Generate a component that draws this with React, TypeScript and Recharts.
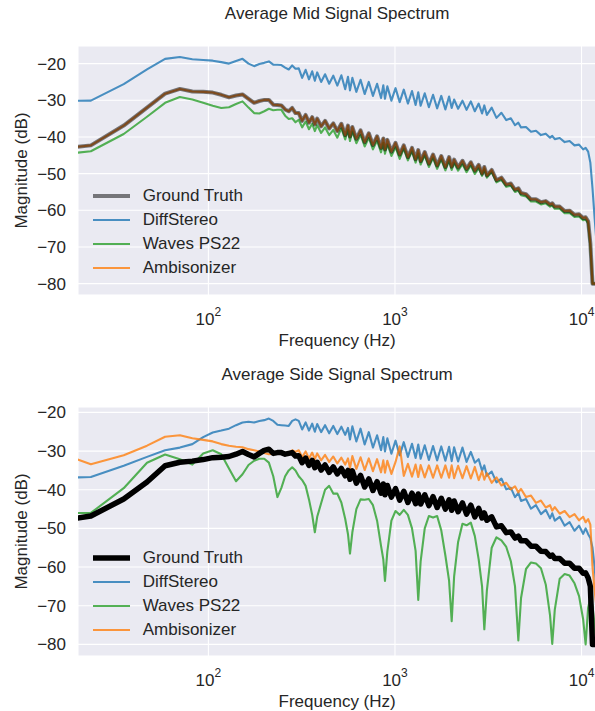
import { LineChart, Line, XAxis, YAxis, CartesianGrid, Legend, Label } from 'recharts';

const FONT = '"Liberation Sans", Arial, Helvetica, sans-serif';
const INK = '#262626';

// frequency bins (Hz); low end follows the FFT bins, higher up a thinner set
const freqs = [
  11.72, 23.44, 35.16, 46.88, 58.59, 70.31, 82.03, 93.75, 105.47, 117.19, 128.91, 140.63, 152.34,
  164.06, 175.78, 187.5, 199.22, 210.94, 222.66, 234.38, 246.09, 257.81, 269.53, 281.25, 292.97,
  305, 318, 332, 346, 360, 372, 383, 402, 422, 444,
  467, 491, 516, 541, 560, 574, 591, 621, 654, 688,
  724, 762, 802, 842, 866, 884, 910, 957, 1007, 1060,
  1115, 1173, 1234, 1290, 1333, 1373, 1444, 1520, 1600, 1683,
  1771, 1863, 1950, 2014, 2075, 2180, 2300, 2420, 2550, 2680,
  2810, 2930, 3013, 3110, 3300, 3500, 3720, 3950, 4180, 4400,
  4585, 4740, 5040, 5360, 5700, 6060, 6430, 6780, 6967, 7190,
  7640, 8120, 8630, 9170, 9700, 10200, 10520, 10850, 11150, 11450,
  11750, 12000,
];

// ---- Mid signal (dB) ----
const midTruth = [
  -44.0, -42.3, -36.9, -32.0, -28.2, -26.9, -27.6, -27.7, -27.9, -28.5, -29.2, -28.7, -28.4,
  -29.6, -30.7, -30.2, -29.9, -29.9, -31.2, -31.3, -31.4, -32.5, -33.0, -32.1, -33.5,
  -33.5, -35.6, -34.0, -36.1, -34.6, -36.6, -35.0, -37.1, -35.6, -37.7,
  -36.3, -38.4, -36.4, -39.5, -36.9, -39.9, -37.3, -40.5, -38.2, -41.4,
  -39.0, -42.2, -39.8, -43.0, -40.4, -43.4, -40.8, -44.0, -41.6, -44.8,
  -42.3, -45.5, -43.0, -46.1, -43.6, -46.6, -44.1, -47.3, -44.8, -47.8,
  -45.2, -48.2, -45.5, -48.1, -46.2, -48.3, -46.5, -48.7, -46.9, -49.2,
  -47.6, -50.0, -48.2, -50.5, -49.0, -51.8, -51.1, -53.0, -52.7, -54.4,
  -54.0, -55.3, -55.6, -57.0, -57.0, -57.8, -57.5, -58.4, -58.1, -59.0,
  -59.0, -60.2, -60.1, -61.2, -61.1, -62.1, -61.9, -63.0, -69.0, -80.0,
  -80.0, -80.0,
];
const midDiffStereo = [
  -30.2, -30.1, -25.6, -21.6, -18.7, -18.2, -18.8, -19.0, -19.2, -19.6, -20.0, -19.3, -18.7,
  -20.0, -20.7, -20.1, -19.8, -19.4, -20.3, -20.3, -20.4, -21.1, -21.6, -20.5, -21.4,
  -21.3, -23.9, -21.7, -24.3, -22.1, -24.7, -22.4, -25.0, -22.9, -25.5,
  -23.3, -26.0, -23.2, -27.0, -23.6, -27.3, -23.9, -27.7, -24.4, -28.3,
  -25.0, -28.8, -25.5, -29.4, -25.9, -29.6, -26.2, -30.1, -26.7, -30.5,
  -27.1, -30.9, -27.5, -31.3, -27.8, -31.5, -28.1, -31.9, -28.5, -32.2,
  -28.8, -32.5, -29.0, -32.1, -29.8, -32.3, -30.1, -32.6, -30.3, -33.0,
  -30.9, -33.6, -31.4, -34.0, -32.0, -34.8, -33.4, -35.4, -34.9, -36.8,
  -36.1, -37.4, -37.3, -38.6, -38.3, -39.5, -39.1, -40.2, -39.7, -40.6,
  -40.3, -41.4, -41.1, -42.3, -42.1, -43.4, -43.0, -44.0, -47.0, -54.0,
  -62.0, -68.0,
];
const midWaves = [
  -45.6, -43.9, -39.2, -34.5, -30.7, -29.1, -29.8, -30.7, -31.5, -32.1, -31.9, -31.0, -30.3,
  -32.0, -33.5, -33.6, -33.0, -32.3, -32.7, -32.6, -32.6, -34.2, -35.1, -34.9, -36.0,
  -35.3, -37.4, -35.8, -37.9, -36.4, -38.4, -36.8, -38.9, -37.4, -39.5,
  -38.1, -40.2, -37.6, -40.7, -38.1, -41.1, -38.5, -41.7, -39.4, -42.6,
  -40.2, -43.4, -41.0, -44.2, -41.6, -44.6, -42.0, -45.2, -42.8, -46.0,
  -43.2, -46.4, -43.9, -47.0, -44.5, -47.5, -45.0, -48.2, -45.7, -48.7,
  -46.1, -49.1, -46.4, -49.0, -47.1, -49.2, -47.4, -49.6, -47.8, -50.1,
  -48.5, -50.6, -48.8, -51.1, -49.6, -52.4, -51.7, -53.6, -53.3, -55.0,
  -54.6, -55.9, -56.2, -57.6, -57.6, -58.4, -58.1, -59.0, -58.7, -59.6,
  -59.6, -60.8, -60.7, -61.8, -61.7, -62.7, -62.5, -63.6, -70.0, -80.0,
  -80.0, -80.0,
];
// mid Ambisonizer sits exactly under the ground truth
const midAmbisonizer = midTruth;

// ---- Side signal (dB) ----
const sideTruth = [
  -49.0, -46.8, -42.4, -38.0, -33.8, -32.9, -32.6, -32.2, -31.7, -31.6, -31.4, -30.8, -30.1,
  -30.9, -31.5, -30.6, -29.8, -29.5, -30.6, -30.4, -30.4, -30.8, -30.6, -30.4, -31.3,
  -31.2, -33.0, -31.8, -33.7, -32.4, -34.3, -32.9, -34.9, -33.6, -35.5,
  -34.1, -35.9, -34.5, -36.4, -35.0, -37.3, -35.1, -38.3, -36.3, -39.3,
  -37.2, -40.2, -37.9, -40.9, -38.5, -41.3, -38.9, -41.9, -39.7, -42.7,
  -40.4, -43.3, -40.9, -43.6, -41.1, -43.7, -41.3, -44.1, -41.8, -44.6,
  -42.2, -45.0, -42.6, -45.3, -42.9, -45.7, -43.4, -46.3, -44.0, -47.0,
  -44.8, -47.3, -46.0, -47.9, -47.0, -49.6, -49.3, -51.1, -50.9, -52.5,
  -52.0, -53.2, -53.2, -54.6, -54.6, -55.9, -56.0, -57.2, -56.9, -57.8,
  -57.8, -59.0, -59.0, -60.3, -60.3, -61.6, -61.5, -62.8, -65.0, -80.0,
  -80.0, -80.0,
];
const sideDiffStereo = [
  -37.1, -36.7, -33.8, -31.5, -29.8, -29.1, -28.2, -26.4, -25.2, -24.7, -24.2, -23.3, -22.6,
  -22.4, -22.6, -22.2, -22.0, -21.6, -22.2, -23.2, -23.3, -23.4, -23.5, -22.2, -21.8,
  -22.2, -24.4, -22.6, -24.7, -22.9, -25.0, -23.0, -25.1, -23.3, -25.4,
  -23.5, -25.6, -23.7, -25.8, -24.0, -27.0, -23.6, -27.5, -24.2, -28.3,
  -25.1, -29.1, -25.9, -29.8, -26.4, -30.1, -26.7, -30.7, -27.3, -31.1,
  -27.7, -31.5, -28.1, -31.8, -28.3, -32.0, -28.5, -32.3, -28.7, -32.4,
  -28.8, -32.5, -28.9, -32.6, -29.0, -32.7, -29.1, -32.8, -30.2, -33.0,
  -32.1, -35.1, -33.7, -36.4, -35.3, -38.1, -37.1, -39.9, -39.5, -41.9,
  -40.8, -42.9, -42.4, -44.9, -44.0, -46.3, -45.2, -47.4, -46.1, -48.0,
  -47.0, -49.3, -48.4, -50.6, -49.3, -51.4, -50.0, -51.5, -52.5, -55.0,
  -60.0, -65.0,
];
const sideWaves = [
  -46.0, -46.0, -39.6, -33.0, -30.9, -32.1, -33.5, -30.6, -29.8, -30.8, -34.5, -37.8, -36.0,
  -33.6, -32.5, -32.0, -32.0, -33.0, -36.5, -41.9, -39.5, -36.5, -35.0, -34.2, -35.0,
  -36.5, -37.5, -39.0, -42.5, -46.5, -51.0, -47.0, -43.5, -40.0, -39.0,
  -41.0, -41.0, -43.3, -47.5, -51.5, -56.5, -51.0, -45.0, -42.5, -42.6,
  -42.4, -44.0, -48.0, -54.5, -58.0, -63.6, -56.0, -48.0, -45.5, -46.5,
  -45.2, -46.5, -50.0, -55.8, -68.5, -58.5, -50.0, -46.8, -47.2, -46.8,
  -50.5, -57.0, -63.5, -74.0, -62.5, -53.5, -48.8, -49.2, -48.5, -52.0,
  -58.0, -65.0, -76.1, -66.0, -55.0, -52.3, -53.1, -54.8, -58.5, -65.0,
  -79.0, -68.0, -60.5, -58.8, -59.1, -60.3, -64.5, -72.5, -79.9, -71.0,
  -63.0, -61.8, -62.2, -64.2, -67.5, -73.5, -80.0, -70.5, -68.0, -70.0,
  -75.0, -80.0,
];
const sideAmbisonizer = [
  -28.2, -33.4, -31.1, -28.6, -26.3, -25.9, -26.7, -27.1, -27.5, -28.2, -28.6, -28.9, -29.0,
  -29.5, -29.8, -30.1, -30.5, -30.8, -30.7, -30.6, -30.6, -30.5, -30.4, -29.8, -30.2,
  -29.8, -31.6, -30.1, -31.9, -30.4, -32.1, -30.6, -32.4, -31.0, -32.8,
  -31.4, -33.2, -31.7, -33.5, -31.9, -34.4, -31.3, -34.6, -31.6, -34.9,
  -31.9, -35.2, -32.1, -35.5, -32.4, -35.6, -32.5, -35.9, -32.8, -28.8,
  -36.4, -33.3, -36.6, -33.5, -36.7, -33.6, -36.8, -33.7, -36.9, -33.7,
  -36.9, -33.7, -36.9, -33.7, -37.0, -33.8, -37.0, -33.9, -37.1, -34.1,
  -37.5, -35.2, -37.4, -35.7, -38.2, -36.8, -38.9, -38.2, -39.9, -39.1,
  -40.7, -39.8, -41.9, -41.5, -43.4, -42.8, -44.6, -44.0, -45.4, -44.5,
  -46.2, -45.5, -47.1, -46.3, -47.9, -47.0, -48.4, -47.6, -49.0, -60.0,
  -66.0, -70.0,
];

const xTicks = [100, 1000, 10000];
const yTicks = [-80, -70, -60, -50, -40, -30, -20];

type Style = { color: string; opacity: number; width: number };

const STYLES: Record<string, Style> = {
  diff: { color: '#1f77b4', opacity: 0.8, width: 2.1 },
  waves: { color: '#2ca02c', opacity: 0.8, width: 2.1 },
  ambi: { color: '#ff7f0e', opacity: 0.8, width: 2.1 },
};

const NAMES: Record<string, string> = {
  truth: 'Ground Truth',
  diff: 'DiffStereo',
  waves: 'Waves PS22',
  ambi: 'Ambisonizer',
};

function buildRows(truth: number[], diff: number[], waves: number[], ambi: number[]) {
  return freqs.map((f, i) => ({ f, truth: truth[i], diff: diff[i], waves: waves[i], ambi: ambi[i] }));
}

function PowerTick(props: any) {
  const { x, y, payload } = props;
  const exp = Math.round(Math.log10(payload.value));
  return (
    <text x={x} y={y + 30} textAnchor="middle" fill={INK} fontFamily={FONT} fontSize={17}>
      10
      <tspan dy={-9} fontSize={12}>
        {exp}
      </tspan>
    </text>
  );
}

function DbTick(props: any) {
  const { x, y, payload } = props;
  const v = payload.value as number;
  const txt = v < 0 ? `\u2212${Math.abs(v)}` : String(v);
  return (
    <text x={x} y={y + 6} textAnchor="end" fill={INK} fontFamily={FONT} fontSize={17}>
      {txt}
    </text>
  );
}

function XTitle(props: any) {
  const vb = props.viewBox || { x: 70, y: 287, width: 518.3 };
  return (
    <text x={vb.x + vb.width / 2} y={vb.y + 51} textAnchor="middle" fill={INK} fontFamily={FONT} fontSize={17}>
      Frequency (Hz)
    </text>
  );
}

function YTitle(props: any) {
  const vb = props.viewBox || { x: 0, y: 38, width: 70, height: 249 };
  const cy = vb.y + vb.height / 2;
  return (
    <text
      x={18.5}
      y={cy}
      transform={`rotate(-90 18.5 ${cy})`}
      textAnchor="middle"
      fill={INK}
      fontFamily={FONT}
      fontSize={17}
    >
      Magnitude (dB)
    </text>
  );
}

function LegendBox({ truth }: { truth: Style }) {
  const items = [
    { key: 'truth', st: truth },
    { key: 'diff', st: STYLES.diff },
    { key: 'waves', st: STYLES.waves },
    { key: 'ambi', st: STYLES.ambi },
  ];
  return (
    <div style={{ fontFamily: FONT, fontSize: 17, color: INK }}>
      {items.map(({ key, st }) => (
        <div key={key} style={{ display: 'flex', alignItems: 'center', height: 24 }}>
          <svg width={37} height={12} style={{ display: 'block' }}>
            <line x1={0} x2={37} y1={6} y2={6} stroke={st.color} strokeOpacity={st.opacity} strokeWidth={st.width} />
          </svg>
          <span style={{ marginLeft: 13, whiteSpace: 'nowrap', lineHeight: '24px' }}>{NAMES[key]}</span>
        </div>
      ))}
    </div>
  );
}

interface PanelProps {
  rows: ReturnType<typeof buildRows>;
  yDomain: [number, number];
  truth: Style;
  legendTop: number;
}

function SpectrumPanel({ rows, yDomain, truth, legendTop }: PanelProps) {
  return (
    <LineChart width={600} height={348} data={rows} margin={{ top: 38, right: 11.7, bottom: 0, left: 0 }}>
      <CartesianGrid fill="#EAEAF2" fillOpacity={1} stroke="#ffffff" strokeWidth={1.1} />
      <XAxis
        dataKey="f"
        type="number"
        scale="log"
        domain={[20, 12000]}
        allowDataOverflow
        ticks={xTicks}
        interval={0}
        axisLine={false}
        tickLine={false}
        tickSize={0}
        tickMargin={0}
        height={61}
        tick={<PowerTick />}
      >
        <Label content={<XTitle />} />
      </XAxis>
      <YAxis
        type="number"
        domain={yDomain}
        allowDataOverflow
        ticks={yTicks}
        interval={0}
        axisLine={false}
        tickLine={false}
        tickSize={0}
        tickMargin={12}
        width={70}
        tick={<DbTick />}
      >
        <Label content={<YTitle />} />
      </YAxis>
      {(['diff', 'waves', 'ambi'] as const).map((k) => (
        <Line
          key={k}
          type="linear"
          dataKey={k}
          name={NAMES[k]}
          stroke={STYLES[k].color}
          strokeOpacity={STYLES[k].opacity}
          strokeWidth={STYLES[k].width}
          strokeLinejoin="round"
          dot={false}
          activeDot={false}
          isAnimationActive={false}
        />
      ))}
      <Line
        type="linear"
        dataKey="truth"
        name={NAMES.truth}
        stroke={truth.color}
        strokeOpacity={truth.opacity}
        strokeWidth={truth.width}
        strokeLinejoin="round"
        dot={false}
        activeDot={false}
        isAnimationActive={false}
      />
      <Legend
        layout="vertical"
        align="center"
        verticalAlign="middle"
        wrapperStyle={{ left: 84.7, top: legendTop, width: 200, height: 96 }}
        content={() => <LegendBox truth={truth} />}
      />
    </LineChart>
  );
}

const titleStyle: React.CSSProperties = {
  position: 'absolute',
  left: 78,
  width: 518.3,
  textAlign: 'center',
  fontFamily: FONT,
  fontSize: 17,
  lineHeight: '20px',
  color: INK,
};

export default function App() {
  const midRows = buildRows(midTruth, midDiffStereo, midWaves, midAmbisonizer);
  const sideRows = buildRows(sideTruth, sideDiffStereo, sideWaves, sideAmbisonizer);
  return (
    <div
      style={{
        position: 'fixed',
        left: 0,
        top: 0,
        width: 595,
        height: 711,
        overflow: 'hidden',
        background: '#ffffff',
      }}
    >
      <div style={{ ...titleStyle, top: 4 }}>Average Mid Signal Spectrum</div>
      <div style={{ position: 'absolute', left: 8, top: 8 }}>
        <SpectrumPanel
          rows={midRows}
          yDomain={[-83.1, -15.2]}
          truth={{ color: '#000000', opacity: 0.5, width: 4 }}
          legendTop={176}
        />
      </div>
      <div style={{ ...titleStyle, top: 365 }}>Average Side Signal Spectrum</div>
      <div style={{ position: 'absolute', left: 8, top: 369 }}>
        <SpectrumPanel
          rows={sideRows}
          yDomain={[-83.0, -18.6]}
          truth={{ color: '#000000', opacity: 1, width: 5.5 }}
          legendTop={177}
        />
      </div>
    </div>
  );
}
